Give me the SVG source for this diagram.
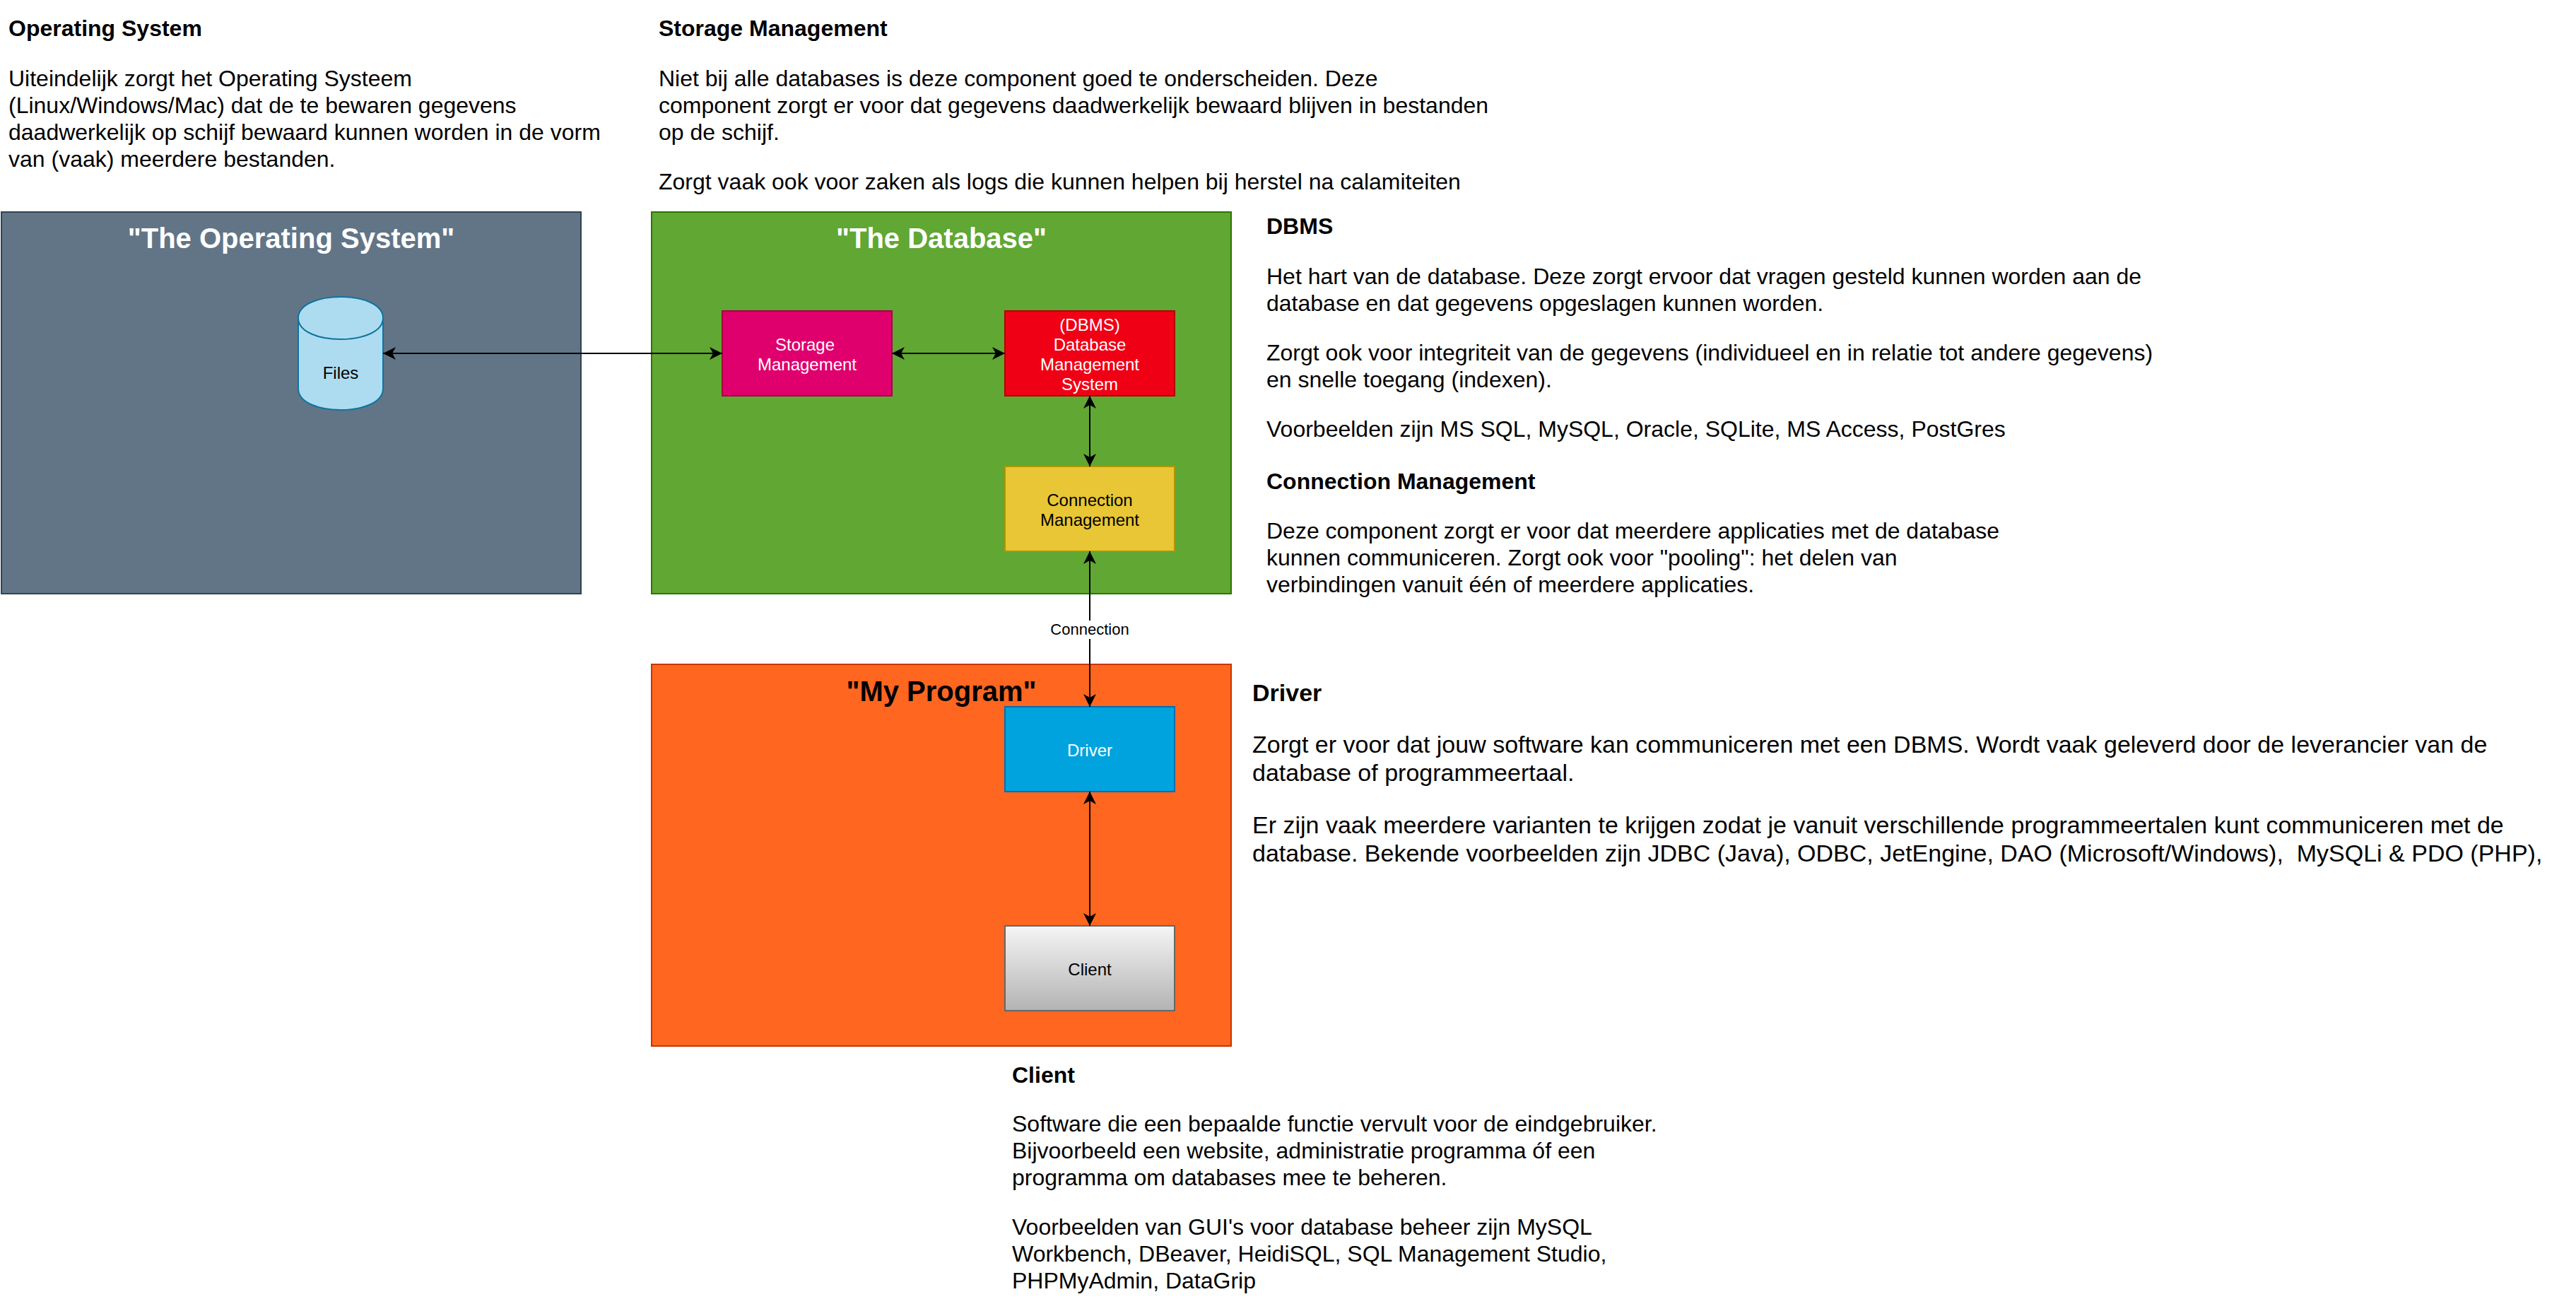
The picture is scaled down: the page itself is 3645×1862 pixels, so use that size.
<svg xmlns="http://www.w3.org/2000/svg" width="3645" height="1862" viewBox="0 0 3645 1862">
<style>
text{font-family:"Liberation Sans",Arial,sans-serif}
.b{font-size:32px;fill:#000}
.h{font-size:32px;font-weight:bold;fill:#000}
.l{font-size:34px}
.t{font-size:40px;font-weight:bold;text-anchor:middle}
.n{font-size:24px;text-anchor:middle}
.w{fill:#fff}
.c{fill:none;stroke:#000;stroke-width:2}
</style>
<defs>
<marker id="a" markerUnits="userSpaceOnUse" markerWidth="20" markerHeight="20" refX="18" refY="9" orient="auto-start-reverse" viewBox="0 0 20 18"><path d="M18 9L0 0L5 9L0 18Z" fill="#000"/></marker>
<linearGradient id="g" x1="0" y1="0" x2="0" y2="1"><stop offset="0" stop-color="#f5f5f5"/><stop offset="1" stop-color="#b3b3b3"/></linearGradient>
</defs>
<g id="os"><rect x="2" y="300" width="820" height="540" fill="#627587" stroke="#314354" stroke-width="2"/><text class="t w" x="412" y="351">"The Operating System"</text></g>
<g id="db"><rect x="922" y="300" width="820" height="540" fill="#60a733" stroke="#2d7600" stroke-width="2"/><text class="t w" x="1332" y="351">"The Database"</text></g>
<g id="prog"><rect x="922" y="940" width="820" height="540" fill="#ff6620" stroke="#c73500" stroke-width="2"/><text class="t" x="1332" y="992">"My Program"</text></g>
<g id="files"><path d="M422 450C422 410 542 410 542 450L542 550C542 590 422 590 422 550Z" fill="#addcf0" stroke="#10739e" stroke-width="2"/><path d="M422 450C422 490 542 490 542 450" fill="none" stroke="#10739e" stroke-width="2"/><text class="n" x="482" y="536">Files</text></g>
<g id="storage"><rect x="1022" y="440" width="240" height="120" fill="#df006e" stroke="#a50040" stroke-width="2"/><text class="n w" x="1139" y="496">Storage</text><text class="n w" x="1142" y="524">Management</text></g>
<g id="dbms"><rect x="1422" y="440" width="240" height="120" fill="#f00014" stroke="#b20000" stroke-width="2"/><text class="n w" x="1542" y="468">(DBMS)</text><text class="n w" x="1542" y="496">Database</text><text class="n w" x="1542" y="524">Management</text><text class="n w" x="1542" y="552">System</text></g>
<g id="conn"><rect x="1422" y="660" width="240" height="120" fill="#e8c635" stroke="#b09500" stroke-width="2"/><text class="n" x="1542" y="716">Connection</text><text class="n" x="1542" y="744">Management</text></g>
<g id="driver"><rect x="1422" y="1000" width="240" height="120" fill="#00a3de" stroke="#006eaf" stroke-width="2"/><text class="n w" x="1542" y="1070">Driver</text></g>
<g id="client"><rect x="1422" y="1310" width="240" height="120" fill="url(#g)" stroke="#666" stroke-width="2"/><text class="n" x="1542" y="1380">Client</text></g>
<g id="connectors">
<path class="c" d="M542 500H1022" marker-start="url(#a)" marker-end="url(#a)"/>
<path class="c" d="M1262 500H1422" marker-start="url(#a)" marker-end="url(#a)"/>
<path class="c" d="M1542 560V660" marker-start="url(#a)" marker-end="url(#a)"/>
<path class="c" d="M1542 780V1000" marker-start="url(#a)" marker-end="url(#a)"/>
<path class="c" d="M1542 1120V1310" marker-start="url(#a)" marker-end="url(#a)"/>
<rect x="1486" y="878" width="112" height="26" fill="#fff"/>
<text x="1542" y="898" font-size="22" text-anchor="middle">Connection</text>
</g>
<g id="notes">
<text class="h" x="12" y="51">Operating System</text>
<text class="b" x="12" y="122">Uiteindelijk zorgt het Operating Systeem</text>
<text class="b" x="12" y="160">(Linux/Windows/Mac) dat de te bewaren gegevens</text>
<text class="b" x="12" y="198">daadwerkelijk op schijf bewaard kunnen worden in de vorm</text>
<text class="b" x="12" y="236">van (vaak) meerdere bestanden.</text>
<text class="h" x="932" y="51">Storage Management</text>
<text class="b" x="932" y="122">Niet bij alle databases is deze component goed te onderscheiden. Deze</text>
<text class="b" x="932" y="160">component zorgt er voor dat gegevens daadwerkelijk bewaard blijven in bestanden</text>
<text class="b" x="932" y="198">op de schijf.</text>
<text class="b" x="932" y="268">Zorgt vaak ook voor zaken als logs die kunnen helpen bij herstel na calamiteiten</text>
<text class="h" x="1792" y="331">DBMS</text>
<text class="b" x="1792" y="402">Het hart van de database. Deze zorgt ervoor dat vragen gesteld kunnen worden aan de</text>
<text class="b" x="1792" y="440">database en dat gegevens opgeslagen kunnen worden.</text>
<text class="b" x="1792" y="510">Zorgt ook voor integriteit van de gegevens (individueel en in relatie tot andere gegevens)</text>
<text class="b" x="1792" y="548">en snelle toegang (indexen).</text>
<text class="b" x="1792" y="618">Voorbeelden zijn MS SQL, MySQL, Oracle, SQLite, MS Access, PostGres</text>
<text class="h" x="1792" y="692">Connection Management</text>
<text class="b" x="1792" y="762">Deze component zorgt er voor dat meerdere applicaties met de database</text>
<text class="b" x="1792" y="800">kunnen communiceren. Zorgt ook voor "pooling": het delen van</text>
<text class="b" x="1792" y="838">verbindingen vanuit één of meerdere applicaties.</text>
<text class="h l" x="1772" y="992">Driver</text>
<text class="b l" x="1772" y="1065">Zorgt er voor dat jouw software kan communiceren met een DBMS. Wordt vaak geleverd door de leverancier van de</text>
<text class="b l" x="1772" y="1105">database of programmeertaal.</text>
<text class="b l" x="1772" y="1179">Er zijn vaak meerdere varianten te krijgen zodat je vanuit verschillende programmeertalen kunt communiceren met de</text>
<text class="b l" x="1772" y="1219">database. Bekende voorbeelden zijn JDBC (Java), ODBC, JetEngine, DAO (Microsoft/Windows), &#160;MySQLi &amp; PDO (PHP),</text>
<text class="h" x="1432" y="1532">Client</text>
<text class="b" x="1432" y="1601">Software die een bepaalde functie vervult voor de eindgebruiker.</text>
<text class="b" x="1432" y="1639">Bijvoorbeeld een website, administratie programma óf een</text>
<text class="b" x="1432" y="1677">programma om databases mee te beheren.</text>
<text class="b" x="1432" y="1747">Voorbeelden van GUI's voor database beheer zijn MySQL</text>
<text class="b" x="1432" y="1785">Workbench, DBeaver, HeidiSQL, SQL Management Studio,</text>
<text class="b" x="1432" y="1823">PHPMyAdmin, DataGrip</text>
</g>
</svg>
